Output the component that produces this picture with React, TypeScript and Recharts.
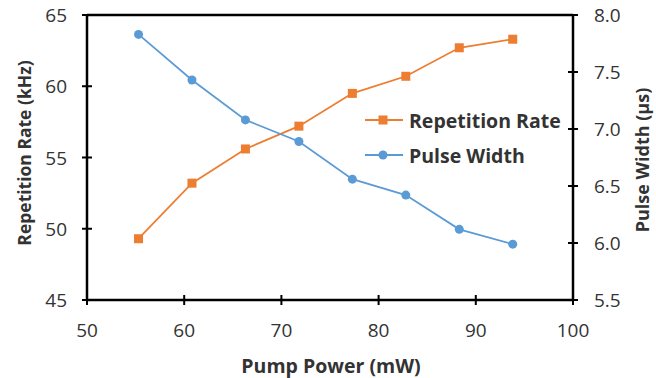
import React from 'react';
import { ComposedChart, Line, XAxis, YAxis, ReferenceLine, Legend } from 'recharts';

// Pump power (mW)
const pumpPower = [55.3, 60.8, 66.3, 71.8, 77.3, 82.8, 88.3, 93.8];
// Repetition rate (kHz)
const repRate = [49.3, 53.2, 55.6, 57.2, 59.5, 60.7, 62.7, 63.3];
// Pulse width (us)
const pulseWidth = [7.83, 7.43, 7.08, 6.89, 6.56, 6.42, 6.12, 5.99];

const xTicks = [50, 60, 70, 80, 90, 100];
const leftTicks = [45, 50, 55, 60, 65];
const rightTicks = [5.5, 6.0, 6.5, 7.0, 7.5, 8.0];

const data = pumpPower.map((p, i) => ({ power: p, rate: repRate[i], width: pulseWidth[i] }));

const ORANGE = '#ED7D31';
const BLUE = '#5B9BD5';
const TEXT = '#333333';
const FONT = '"Open Sans", "Noto Sans", sans-serif';

const XTick = (props: any) => {
  const { x, y, payload } = props;
  return (
    <g>
      <line x1={x} x2={x} y1={y - 5} y2={y + 5} stroke="#000" strokeWidth={2} />
      <text x={x} y={y + 30} textAnchor="middle" dominantBaseline="central" fontSize={19} fill={TEXT} fontFamily={FONT}>
        {payload.value}
      </text>
    </g>
  );
};

const LeftTick = (props: any) => {
  const { x, y, payload } = props;
  return (
    <g>
      <line x1={x - 5} x2={x + 5} y1={y} y2={y} stroke="#000" strokeWidth={2} />
      <text x={x - 20} y={y} textAnchor="end" dominantBaseline="central" fontSize={19} fill={TEXT} fontFamily={FONT}>
        {payload.value}
      </text>
    </g>
  );
};

const RightTick = (props: any) => {
  const { x, y, payload } = props;
  return (
    <g>
      <line x1={x - 5} x2={x + 5} y1={y} y2={y} stroke="#000" strokeWidth={2} />
      <text x={x + 21} y={y} textAnchor="start" dominantBaseline="central" fontSize={19} fill={TEXT} fontFamily={FONT}>
        {Number(payload.value).toFixed(1)}
      </text>
    </g>
  );
};

const legendOrder = ['rate', 'width'];

const renderLegend = (props: any) => {
  const items = [...(props.payload || [])].sort(
    (a: any, b: any) => legendOrder.indexOf(a.dataKey) - legendOrder.indexOf(b.dataKey)
  );
  return (
    <svg width={210} height={70} style={{ overflow: 'visible' }}>
      {items.map((entry: any, i: number) => {
        const cy = 15 + i * 35;
        return (
          <g key={entry.value}>
            <line x1={2} x2={40} y1={cy} y2={cy} stroke={entry.color} strokeWidth={2} />
            {entry.dataKey === 'rate' ? (
              <rect x={15.5} y={cy - 4.5} width={9} height={9} fill={entry.color} />
            ) : (
              <circle cx={20} cy={cy} r={4.5} fill={entry.color} />
            )}
            <text x={46} y={cy} dominantBaseline="central" fontSize={19.5} fontWeight={700} fill={TEXT} fontFamily={FONT}>
              {entry.value}
            </text>
          </g>
        );
      })}
    </svg>
  );
};

const SquareDot = (props: any) => {
  const { cx, cy } = props;
  if (cx == null || cy == null) return null;
  return <rect x={cx - 4.5} y={cy - 4.5} width={9} height={9} fill={ORANGE} />;
};

export default function App() {
  return (
    <div style={{ position: 'absolute', left: 0, top: 0, width: 656, height: 378, background: '#fff' }}>
      <ComposedChart width={656} height={378} data={data} margin={{ top: 15, right: 0, bottom: 0, left: 0 }}>
        <XAxis
          dataKey="power"
          type="number"
          domain={[50, 100]}
          ticks={xTicks}
          height={78}
          axisLine={{ stroke: '#000', strokeWidth: 2.5 }}
          tickLine={false}
          tickSize={0}
          tickMargin={0}
          tick={<XTick />}
          interval={0}
          label={{
            content: ({ viewBox }: any) => (
              <text
                x={viewBox.x + viewBox.width / 2 + 1}
                y={365}
                textAnchor="middle"
                dominantBaseline="central"
                fontSize={19.5}
                fontWeight={700}
                fill={TEXT}
                fontFamily={FONT}
              >
                Pump Power (mW)
              </text>
            ),
          }}
        />
        <YAxis
          yAxisId="left"
          domain={[45, 65]}
          ticks={leftTicks}
          width={87}
          axisLine={{ stroke: '#000', strokeWidth: 2.5 }}
          tickLine={false}
          tickSize={0}
          tickMargin={0}
          tick={<LeftTick />}
          interval={0}
          label={{
            content: () => (
              <text
                x={24}
                y={153}
                transform="rotate(-90 24 153)"
                textAnchor="middle"
                dominantBaseline="central"
                fontSize={17.5}
                fontWeight={700}
                fill={TEXT}
                fontFamily={FONT}
              >
                Repetition Rate (kHz)
              </text>
            ),
          }}
        />
        <YAxis
          yAxisId="right"
          orientation="right"
          domain={[5.5, 8.0]}
          ticks={rightTicks}
          width={83}
          axisLine={{ stroke: '#000', strokeWidth: 2.5 }}
          tickLine={false}
          tickSize={0}
          tickMargin={0}
          tick={<RightTick />}
          interval={0}
          label={{
            content: () => (
              <text
                x={642}
                y={160}
                transform="rotate(-90 642 160)"
                textAnchor="middle"
                dominantBaseline="central"
                fontSize={18}
                fontWeight={700}
                fill={TEXT}
                fontFamily={FONT}
              >
                Pulse Width (µs)
              </text>
            ),
          }}
        />
        <ReferenceLine yAxisId="left" y={65} stroke="#000" strokeWidth={2.5} />
        <Legend
          content={renderLegend}
          layout="vertical"
          verticalAlign="middle"
          align="center"
          wrapperStyle={{ position: 'absolute', left: 363, top: 105, width: 210, height: 70 }}
        />
        <Line
          yAxisId="left"
          dataKey="rate"
          name="Repetition Rate"
          stroke={ORANGE}
          strokeWidth={1.75}
          dot={<SquareDot />}
          isAnimationActive={false}
        />
        <Line
          yAxisId="right"
          dataKey="width"
          name="Pulse Width"
          stroke={BLUE}
          strokeWidth={1.75}
          dot={{ r: 4.5, fill: BLUE, stroke: BLUE, strokeWidth: 0 }}
          isAnimationActive={false}
        />
      </ComposedChart>
    </div>
  );
}
